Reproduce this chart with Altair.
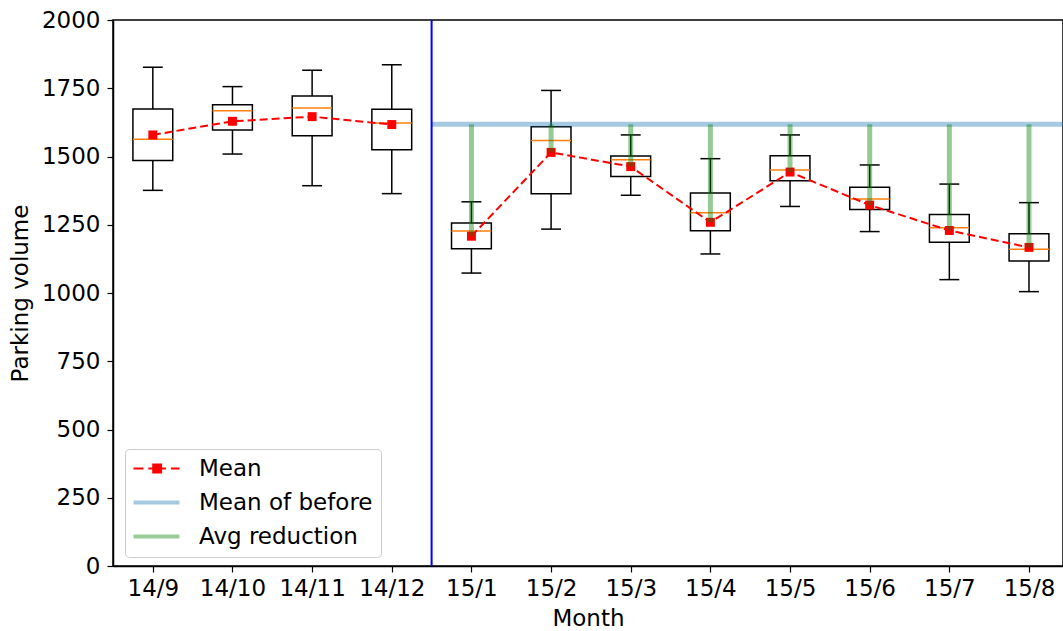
import json
import altair as alt
import pandas as pd

# ---------------- data ----------------
months = ["14/9", "14/10", "14/11", "14/12", "15/1", "15/2",
          "15/3", "15/4", "15/5", "15/6", "15/7", "15/8"]
whisker_low = [1376, 1509, 1393, 1364, 1073, 1234, 1358, 1143, 1317, 1225, 1049, 1005]
q1 = [1485, 1597, 1576, 1525, 1162, 1364, 1427, 1228, 1411, 1306, 1186, 1117]
median = [1563, 1668, 1678, 1623, 1227, 1559, 1488, 1294, 1451, 1344, 1239, 1160]
q3 = [1674, 1690, 1722, 1673, 1256, 1609, 1502, 1366, 1503, 1387, 1288, 1217]
whisker_high = [1827, 1756, 1816, 1836, 1334, 1742, 1579, 1492, 1579, 1469, 1399, 1331]
means = [1579, 1629, 1646, 1617, 1208, 1515, 1463, 1259, 1443, 1322, 1229, 1167]
n_before = 4
y_ticks = [0, 250, 500, 750, 1000, 1250, 1500, 1750, 2000]
legend_names = ["Mean", "Mean of before", "Avg reduction"]

FONT = "DejaVu Sans"
n = len(months)
before_mean = sum(means[:n_before]) / n_before

df = pd.DataFrame({
    "idx": list(range(1, n + 1)),
    "month": months,
    "lo": whisker_low, "q1": q1, "med": median, "q3": q3, "hi": whisker_high,
    "mean": means,
})
df["period"] = ["before" if i <= n_before else "after" for i in df["idx"]]
df["before"] = before_mean
df["xl"] = df["idx"] - 0.25
df["xr"] = df["idx"] + 0.25
df["cl"] = df["idx"] - 0.125
df["cr"] = df["idx"] + 0.125
after = df[df["idx"] > n_before]

xs = alt.Scale(domain=[0.5, 12.427], nice=False, zero=False)
ys = alt.Scale(domain=[0, 2000], nice=False, zero=False)

label_expr = json.dumps(months) + "[datum.value - 1]"
x_axis = alt.Axis(values=list(range(1, n + 1)), labelExpr=label_expr, title="Month",
                  grid=False, labelFontSize=23, titleFontSize=23, labelFont=FONT,
                  titleFont=FONT, titleFontWeight="normal", labelColor="black",
                  titleColor="black", tickColor="black", domainColor="black",
                  tickSize=6, tickWidth=1.2, domainWidth=1.5, labelPadding=5,
                  titlePadding=7)
y_axis = alt.Axis(values=y_ticks, format="d", title="Parking volume", grid=False,
                  labelFontSize=23, titleFontSize=23, labelFont=FONT, titleFont=FONT,
                  titleFontWeight="normal", labelColor="black", titleColor="black",
                  tickColor="black", domainColor="black", tickSize=6, tickWidth=1.2,
                  domainWidth=1.5, labelPadding=7, titlePadding=9)

X = alt.X("idx:Q", scale=xs, axis=x_axis)
base = alt.Chart(df)

whisk_lo = base.mark_rule(color="black", strokeWidth=1.5).encode(
    x=X, y=alt.Y("lo:Q", scale=ys, axis=y_axis), y2="q1:Q")
whisk_hi = base.mark_rule(color="black", strokeWidth=1.5).encode(
    x=X, y=alt.Y("q3:Q", scale=ys), y2="hi:Q")
cap_lo = base.mark_rule(color="black", strokeWidth=1.5).encode(
    x=alt.X("cl:Q", scale=xs), x2="cr:Q", y=alt.Y("lo:Q", scale=ys))
cap_hi = base.mark_rule(color="black", strokeWidth=1.5).encode(
    x=alt.X("cl:Q", scale=xs), x2="cr:Q", y=alt.Y("hi:Q", scale=ys))
box = base.mark_rect(stroke="black", strokeWidth=1.5, fillOpacity=0).encode(
    x=alt.X("xl:Q", scale=xs), x2="xr:Q", y=alt.Y("q1:Q", scale=ys), y2="q3:Q")
med = base.mark_rule(color="#ff7f0e", strokeWidth=1.5).encode(
    x=alt.X("xl:Q", scale=xs), x2="xr:Q", y=alt.Y("med:Q", scale=ys))

mean_line = base.mark_line(color="#ff0000", strokeWidth=2, strokeDash=[8, 4]).encode(
    x=X, y=alt.Y("mean:Q", scale=ys), detail="period:N")
mean_pts = base.mark_point(shape="square", filled=True, color="#ff0000", size=80,
                           opacity=1).encode(x=X, y=alt.Y("mean:Q", scale=ys))

split_df = pd.DataFrame({"xs": [n_before + 0.5], "xe": [n + 0.5], "y": [before_mean]})
split = alt.Chart(split_df).mark_rule(color="#0000ff", strokeWidth=2).encode(
    x=alt.X("xs:Q", scale=xs))
before_line = alt.Chart(split_df).mark_rule(color="#1f77b4", opacity=0.4, strokeWidth=5,
                                            clip=True).encode(
    x=alt.X("xs:Q", scale=xs), x2="xe:Q", y=alt.Y("y:Q", scale=ys))
green = alt.Chart(after).mark_rule(color="#008000", opacity=0.42, strokeWidth=5).encode(
    x=X, y=alt.Y("before:Q", scale=ys), y2="mean:Q")

# legend glyphs: nominal symbol 22px, path drawn wider (46px) to the right
mean_path = ("M-1,-0.09H-0.1V0.09H-1Z M0.35,-0.09H1.95V0.09H0.35Z "
             "M0.7,-0.45H1.6V0.45H0.7Z M2.4,-0.09H3.18V0.09H2.4Z")
line_path = "M-1,-0.18H3.18V0.18H-1Z"
leg = alt.Legend(orient="none", legendX=12, legendY=429, title=None,
                 labelFontSize=23, labelFont=FONT, labelColor="black", labelLimit=400,
                 symbolSize=484, symbolStrokeWidth=0, labelOffset=43,
                 padding=8, rowPadding=10, strokeColor="#cccccc",
                 cornerRadius=4, fillColor="white", symbolOpacity=1)
legend_layer = alt.Chart(pd.DataFrame({"series": legend_names})).transform_filter(
    "false").mark_point(filled=True, opacity=1).encode(
    color=alt.Color("series:N", sort=legend_names,
                    scale=alt.Scale(domain=legend_names,
                                    range=["#ff0000", "#a5c9e1", "#99cc99"]),
                    legend=leg),
    shape=alt.Shape("series:N", sort=legend_names,
                    scale=alt.Scale(domain=legend_names,
                                    range=[mean_path, line_path, line_path]),
                    legend=leg),
)

chart = alt.layer(
    whisk_lo, whisk_hi, cap_lo, cap_hi, box, med,
    mean_line, mean_pts, before_line, split, green, legend_layer,
).properties(
    width=950, height=546,
    autosize=alt.AutoSizeParams(type="none"),
    padding={"left": 113, "top": 20, "right": 0, "bottom": 65},
    view=alt.ViewBackground(stroke="black", strokeWidth=1.5),
).configure_view(stroke="black", strokeWidth=1.5).configure(background="white")

chart.save("out.html", embed_options={"renderer": "svg", "actions": False})
